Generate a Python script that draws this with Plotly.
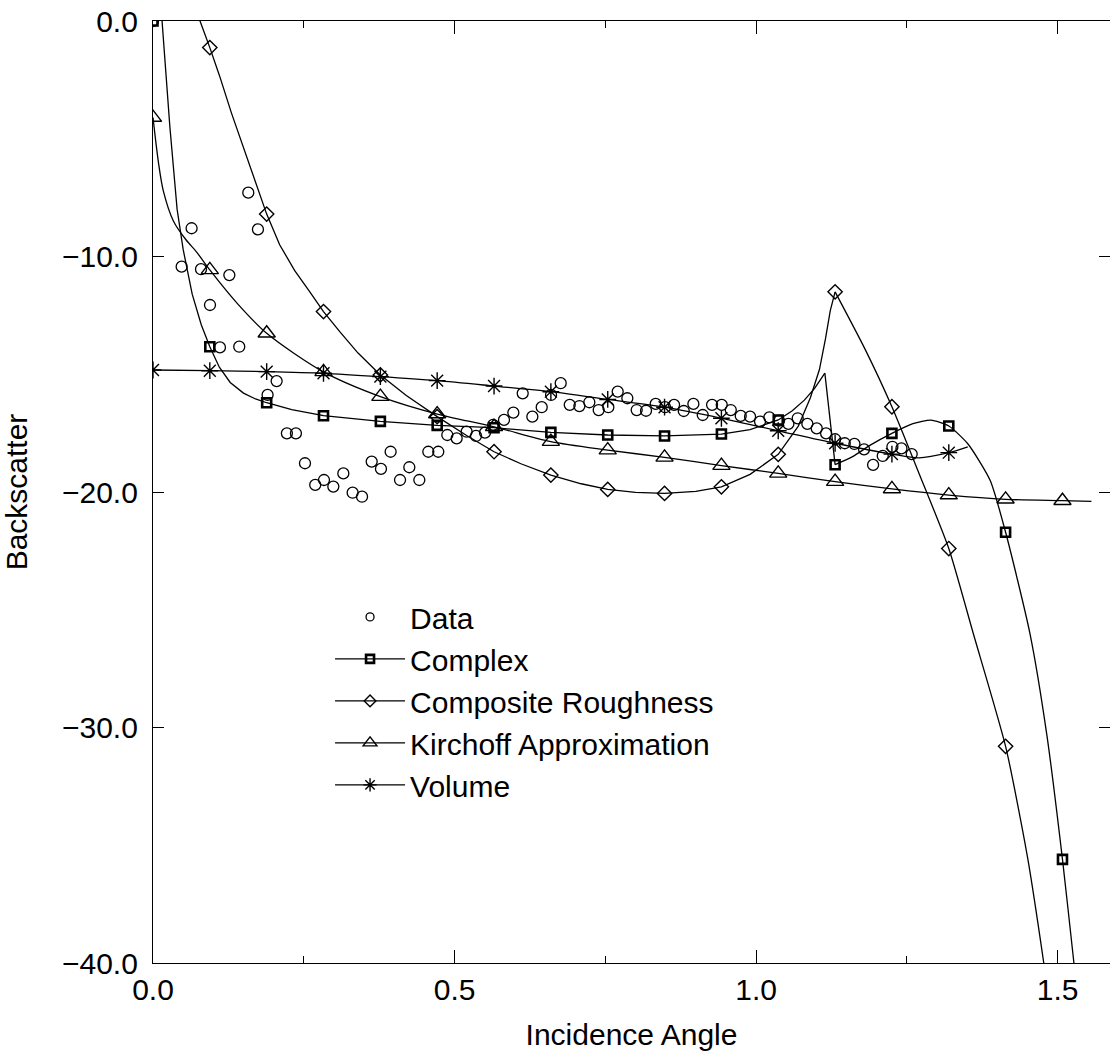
import plotly.graph_objects as go

# ---------------- data ----------------
mark_x = [0.0, 0.0942, 0.1885, 0.2827, 0.377, 0.4712, 0.5655, 0.6597, 0.754,
          0.8482, 0.9425, 1.0367, 1.131, 1.2252, 1.3195, 1.4137, 1.508]

data_x = [0.0, 0.0475, 0.064, 0.0796, 0.0945, 0.111, 0.1266, 0.143, 0.158, 0.174,
          0.19, 0.205, 0.222, 0.237, 0.252, 0.269, 0.2835, 0.299, 0.3156,
          0.331, 0.3466, 0.3626, 0.378, 0.394, 0.4096, 0.425, 0.4416, 0.4565,
          0.473, 0.488, 0.5035, 0.52, 0.5356, 0.5505, 0.564, 0.582, 0.5975,
          0.613, 0.629, 0.6445, 0.66, 0.676, 0.691, 0.707, 0.7235, 0.739,
          0.755, 0.7705, 0.7865, 0.802, 0.8175, 0.8335, 0.849, 0.864, 0.880,
          0.896, 0.9115, 0.927, 0.943, 0.958, 0.9745, 0.99, 1.0065, 1.022,
          1.038, 1.0535, 1.069, 1.085, 1.1005, 1.116, 1.131, 1.147, 1.163,
          1.179, 1.194, 1.21, 1.226, 1.241, 1.258]
data_y = [0.0, -10.43, -8.8, -10.54, -12.06, -13.86, -10.79, -13.83, -7.29, -8.85,
          -15.88, -15.29, -17.51, -17.51, -18.78, -19.70, -19.49, -19.77, -19.21,
          -20.03, -20.2, -18.71, -19.02, -18.29, -19.49, -18.95, -19.49, -18.29,
          -18.29, -17.58, -17.72, -17.44, -17.62, -17.48, -17.15, -16.94, -16.63,
          -15.81, -16.8, -16.4, -15.88, -15.38, -16.3, -16.35, -16.19, -16.52,
          -16.4, -15.74, -16.02, -16.52, -16.55, -16.26, -16.4, -16.3, -16.56,
          -16.26, -16.73, -16.3, -16.3, -16.52, -16.77, -16.8, -17.01, -16.83,
          -16.97, -17.11, -16.87, -17.11, -17.3, -17.51, -17.76, -17.93, -17.96,
          -18.19, -18.85, -18.47, -18.08, -18.15, -18.39]

# Complex: rising part up to the spike, the drop, and the part after it
complex_mark_y = [0.0, -13.83, -16.21, -16.76, -17.0, -17.17, -17.27, -17.47, -17.58,
                  -17.62, -17.54, -16.94, -18.84, -17.51, -17.2, -21.71, -35.6]
complex_a_x = [0.0, 0.015, 0.028, 0.040, 0.050, 0.065, 0.080, 0.0942, 0.11, 0.128,
               0.15, 0.17, 0.1885, 0.23, 0.2827, 0.377, 0.4712, 0.5655, 0.6597,
               0.754, 0.8482, 0.9425, 0.99, 1.0367, 1.06, 1.08, 1.097, 1.114]
complex_a_y = [4.0, 0.0, -4.5, -8.0, -9.7, -11.6, -12.9, -13.83, -14.7, -15.35,
               -15.8, -16.05, -16.21, -16.5, -16.76, -17.0, -17.17, -17.27, -17.47,
               -17.58, -17.62, -17.54, -17.35, -16.94, -16.55, -16.1, -15.6, -14.95]
complex_b_x = [1.131, 1.16, 1.19, 1.2252, 1.26, 1.29, 1.3195, 1.351, 1.388, 1.4137,
               1.454, 1.482, 1.508, 1.527, 1.535]
complex_b_y = [-18.84, -18.5, -18.0, -17.51, -17.1, -16.95, -17.2, -17.95, -19.5, -21.71,
               -26.0, -30.3, -35.6, -40.0, -41.8]

rough_mark_x = mark_x[1:16]
rough_mark_y = [-1.13, -8.2, -12.34, -15.03, -16.8, -18.29, -19.28, -19.89, -20.06,
                -19.78, -18.4, -11.5, -16.38, -22.4, -30.8]
rough_a_x = [0.06, 0.078, 0.0942, 0.11, 0.13, 0.15, 0.17, 0.1885, 0.21, 0.235,
             0.26, 0.2827, 0.31, 0.34, 0.377, 0.42, 0.4712, 0.52, 0.5655, 0.61,
             0.6597, 0.71, 0.754, 0.80, 0.8482, 0.9, 0.9425, 0.99, 1.0367, 1.07,
             1.09, 1.105, 1.115, 1.123, 1.131]
rough_a_y = [3.5, 0.0, -1.13, -2.3, -3.9, -5.4, -6.9, -8.2, -9.5, -10.6,
             -11.5, -12.34, -13.2, -14.1, -15.03, -15.9, -16.8, -17.6, -18.29, -18.8,
             -19.28, -19.65, -19.89, -20.02, -20.06, -19.97, -19.78, -19.25, -18.4, -17.2,
             -16.0, -14.8, -13.5, -12.3, -11.5]
rough_b_x = [1.131, 1.18, 1.2252, 1.27, 1.3195, 1.36, 1.4137, 1.45, 1.477, 1.485]
rough_b_y = [-11.5, -13.9, -16.38, -19.2, -22.4, -26.0, -30.8, -35.5, -40.0, -41.5]

kirch_mark_y = [-4.1, -10.57, -13.26, -14.9, -15.95, -16.69, -17.23, -17.86, -18.22,
                -18.53, -18.88, -19.21, -19.56, -19.87, -20.13, -20.31, -20.37]
kirch_line_x = [0.0, 0.009, 0.017, 0.034, 0.055, 0.072, 0.0942, 0.14, 0.1885, 0.2827,
                0.377, 0.4712, 0.5655, 0.6597, 0.754, 0.8482, 0.9425, 1.0367, 1.131,
                1.2252, 1.3195, 1.4137, 1.508, 1.556]
kirch_line_y = [-4.1, -6.0, -7.2, -8.5, -9.3, -9.8, -10.57, -12.0, -13.26, -14.9,
                -15.95, -16.69, -17.23, -17.86, -18.22, -18.53, -18.88, -19.21, -19.56,
                -19.87, -20.13, -20.31, -20.37, -20.4]

vol_mark_x = mark_x[0:15]
vol_mark_y = [-14.82, -14.85, -14.89, -14.96, -15.1, -15.27, -15.5, -15.74, -16.07,
              -16.4, -16.87, -17.4, -17.93, -18.39, -18.33]
vol_line_x = vol_mark_x[:14] + [1.27, 1.3195, 1.351]
vol_line_y = vol_mark_y[:14] + [-18.55, -18.33, -18.08]

x_tickvals = [0.0, 0.5, 1.0, 1.5]
x_ticktext = ["0.0", "0.5", "1.0", "1.5"]
y_tickvals = [0, -10, -20, -30, -40]
y_ticktext = ["0.0", "\u221210.0", "\u221220.0", "\u221230.0", "\u221240.0"]

# ---------------- figure ----------------
FONT = "Liberation Sans, Arial, sans-serif"
BLACK = "black"
LW = 1.3

fig = go.Figure()


def add_line(x, y, shape="spline", smoothing=0.8):
    fig.add_trace(go.Scatter(x=x, y=y, mode="lines",
                             line=dict(color=BLACK, width=LW, shape=shape, smoothing=smoothing),
                             showlegend=False, hoverinfo="skip"))


def add_marks_and_legend(name, mx, my, symbol, msize, mlw, lsize):
    fig.add_trace(go.Scatter(x=mx, y=my, mode="markers",
                             marker=dict(symbol=symbol, size=msize, color=BLACK,
                                         line=dict(color=BLACK, width=mlw)),
                             showlegend=False))
    fig.add_trace(go.Scatter(x=[None], y=[None], mode="lines+markers", name=name,
                             line=dict(color=BLACK, width=LW),
                             marker=dict(symbol=symbol, size=lsize, color=BLACK,
                                         line=dict(color=BLACK, width=mlw))))


fig.add_trace(go.Scatter(x=data_x, y=data_y, mode="markers", showlegend=False,
                         marker=dict(symbol="circle-open", size=11, color=BLACK,
                                     line=dict(color=BLACK, width=1.3))))
fig.add_trace(go.Scatter(x=[None], y=[None], mode="markers", name="Data",
                         marker=dict(symbol="circle-open", size=8, color=BLACK,
                                     line=dict(color=BLACK, width=1.3))))

# Complex
add_line(complex_a_x, complex_a_y, shape="linear")
add_line([complex_a_x[-1], complex_b_x[0]], [complex_a_y[-1], complex_b_y[0]], shape="linear")
add_line(complex_b_x, complex_b_y, shape="spline", smoothing=0.6)
add_marks_and_legend("Complex", mark_x, complex_mark_y, "square-open", 9, 2.6, 8)

# Composite roughness
add_line(rough_a_x, rough_a_y, shape="linear")
add_line(rough_b_x, rough_b_y, shape="spline", smoothing=0.6)
add_marks_and_legend("Composite Roughness", rough_mark_x, rough_mark_y, "diamond-open", 11, 1.4, 9)

# Kirchoff
add_line(kirch_line_x, kirch_line_y, shape="spline", smoothing=0.8)
add_marks_and_legend("Kirchoff Approximation", mark_x, kirch_mark_y, "triangle-up-open", 15, 1.4, 12)

# Volume
add_line(vol_line_x, vol_line_y, shape="spline", smoothing=0.8)
add_marks_and_legend("Volume", vol_mark_x, vol_mark_y, "asterisk-open", 14, 1.4, 11)

axis_common = dict(showline=True, linecolor=BLACK, linewidth=1.3, mirror="ticks",
                   ticks="inside", tickcolor=BLACK, tickwidth=1.3, showgrid=False,
                   zeroline=False, tickfont=dict(family=FONT, size=30, color=BLACK))

fig.update_xaxes(range=[0, 1.5868], tickmode="array", tickvals=x_tickvals, ticktext=x_ticktext,
                 ticklen=13,
                 minor=dict(ticks="inside", tickmode="linear", tick0=0, dtick=0.25,
                            ticklen=7, tickcolor=BLACK, tickwidth=1.3, showgrid=False),
                 title=dict(text="Incidence Angle", font=dict(family=FONT, size=30, color=BLACK),
                            standoff=18),
                 **axis_common)
fig.update_yaxes(range=[-40, 0], tickmode="array", tickvals=y_tickvals, ticktext=y_ticktext,
                 ticklen=11, ticklabelstandoff=8,
                 title=dict(text="Backscatter", font=dict(family=FONT, size=30, color=BLACK),
                            standoff=27),
                 **axis_common)

fig.update_layout(
    width=1110, height=1057,
    margin=dict(l=153, r=0, t=21, b=94),
    paper_bgcolor="white", plot_bgcolor="white",
    font=dict(family=FONT, size=30, color=BLACK),
    showlegend=True,
    legend=dict(x=0.185, y=0.395, xanchor="left", yanchor="top", bgcolor="rgba(0,0,0,0)",
                font=dict(family=FONT, size=30, color=BLACK), itemwidth=70,
                tracegroupgap=0),
)

fig.write_html("out.html")
